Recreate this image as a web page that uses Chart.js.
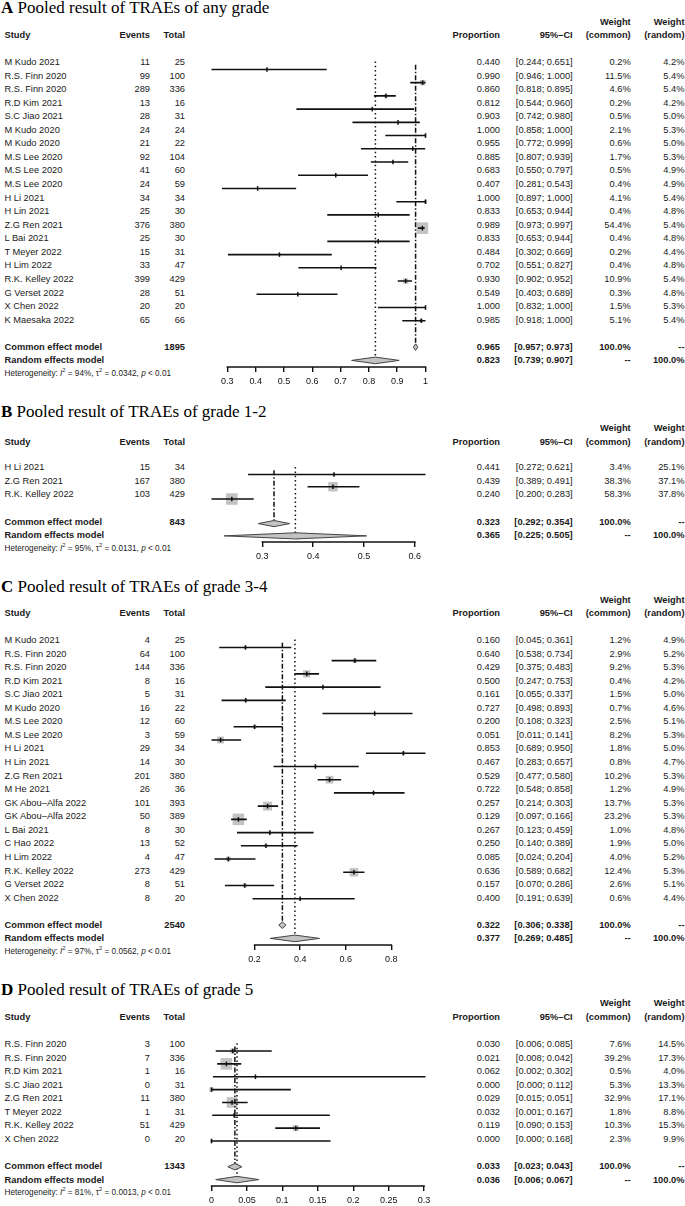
<!DOCTYPE html>
<html>
<head>
<meta charset="utf-8">
<script src="https://cdn.jsdelivr.net/npm/chart.js@4.4.1/dist/chart.umd.min.js"></script>
<style>
  body { margin: 0; background: #fff; }
  #page { position: relative; width: 685px; height: 1206px; overflow: hidden;
          font-family: "Liberation Sans", Arial, sans-serif; color: #1a1a1a; }
  .t { position: absolute; white-space: nowrap; font-size: 9.3px; line-height: 12px; }
  .b { font-weight: bold; }
  .title { font-family: "Liberation Serif", "Times New Roman", serif; font-size: 17px; line-height: 18px; color: #000; }
  .het { font-size: 8.2px; }
  .het sup { font-size: 70%; line-height: 0; }
  canvas { position: absolute; left: 0; }
</style>
</head>
<body>
<div id="page"></div>
<script>
// ---- Panel A: any grade
const studiesA = ["M Kudo 2021","R.S. Finn 2020","R.S. Finn 2020","R.D Kim 2021","S.C Jiao 2021","M Kudo 2020","M Kudo 2020",
  "M.S Lee 2020","M.S Lee 2020","M.S Lee 2020","H Li 2021","H Lin 2021","Z.G Ren 2021","L Bai 2021","T Meyer 2022",
  "H Lim 2022","R.K. Kelley 2022","G Verset 2022","X Chen 2022","K Maesaka 2022"];
const eventsA = [11,99,289,13,28,24,21,92,41,24,34,25,376,25,15,33,399,28,20,65];
const totalA = [25,100,336,16,31,24,22,104,60,59,34,30,380,30,31,47,429,51,20,66];
const propA = [0.440,0.990,0.860,0.812,0.903,1.000,0.955,0.885,0.683,0.407,1.000,0.833,0.989,0.833,0.484,0.702,0.930,0.549,1.000,0.985];
const loA = [0.244,0.946,0.818,0.544,0.742,0.858,0.772,0.807,0.550,0.281,0.897,0.653,0.973,0.653,0.302,0.551,0.902,0.403,0.832,0.918];
const hiA = [0.651,1.000,0.895,0.960,0.980,1.000,0.999,0.939,0.797,0.543,1.000,0.944,0.997,0.944,0.669,0.827,0.952,0.689,1.000,1.000];
const wComA = [0.2,11.5,4.6,0.2,0.5,2.1,0.6,1.7,0.5,0.4,4.1,0.4,54.4,0.4,0.2,0.4,10.9,0.3,1.5,5.1];
const wRanA = [4.2,5.4,5.4,4.2,5.0,5.3,5.0,5.3,4.9,4.9,5.4,4.8,5.4,4.8,4.4,4.8,5.4,4.8,5.3,5.4];
const commonA = [0.965,0.957,0.973];
const randomA = [0.823,0.739,0.907];
const hetA = ["94%","0.0342"];
const nA = 1895;
const ticksA = [0.3,0.4,0.5,0.6,0.7,0.8,0.9,1];
const tickLabelsA = ["0.3","0.4","0.5","0.6","0.7","0.8","0.9","1"];

// ---- Panel B: grade 1-2
const studiesB = ["H Li 2021","Z.G Ren 2021","R.K. Kelley 2022"];
const eventsB = [15,167,103];
const totalB = [34,380,429];
const propB = [0.441,0.439,0.240];
const loB = [0.272,0.389,0.200];
const hiB = [0.621,0.491,0.283];
const wComB = [3.4,38.3,58.3];
const wRanB = [25.1,37.1,37.8];
const commonB = [0.323,0.292,0.354];
const randomB = [0.365,0.225,0.505];
const hetB = ["95%","0.0131"];
const nB = 843;
const ticksB = [0.3,0.4,0.5,0.6];
const tickLabelsB = ["0.3","0.4","0.5","0.6"];

// ---- Panel C: grade 3-4
const studiesC = ["M Kudo 2021","R.S. Finn 2020","R.S. Finn 2020","R.D Kim 2021","S.C Jiao 2021","M Kudo 2020","M.S Lee 2020",
  "M.S Lee 2020","H Li 2021","H Lin 2021","Z.G Ren 2021","M He 2021","GK Abou\u2013Alfa 2022","GK Abou\u2013Alfa 2022",
  "L Bai 2021","C Hao 2022","H Lim 2022","R.K. Kelley 2022","G Verset 2022","X Chen 2022"];
const eventsC = [4,64,144,8,5,16,12,3,29,14,201,26,101,50,8,13,4,273,8,8];
const totalC = [25,100,336,16,31,22,60,59,34,30,380,36,393,389,30,52,47,429,51,20];
const propC = [0.160,0.640,0.429,0.500,0.161,0.727,0.200,0.051,0.853,0.467,0.529,0.722,0.257,0.129,0.267,0.250,0.085,0.636,0.157,0.400];
const loC = [0.045,0.538,0.375,0.247,0.055,0.498,0.108,0.011,0.689,0.283,0.477,0.548,0.214,0.097,0.123,0.140,0.024,0.589,0.070,0.191];
const hiC = [0.361,0.734,0.483,0.753,0.337,0.893,0.323,0.141,0.950,0.657,0.580,0.858,0.303,0.166,0.459,0.389,0.204,0.682,0.286,0.639];
const wComC = [1.2,2.9,9.2,0.4,1.5,0.7,2.5,8.2,1.8,0.8,10.2,1.2,13.7,23.2,1.0,1.9,4.0,12.4,2.6,0.6];
const wRanC = [4.9,5.2,5.3,4.2,5.0,4.6,5.1,5.3,5.0,4.7,5.3,4.9,5.3,5.3,4.8,5.0,5.2,5.3,5.1,4.4];
const commonC = [0.322,0.306,0.338];
const randomC = [0.377,0.269,0.485];
const hetC = ["97%","0.0562"];
const nC = 2540;
const ticksC = [0.2,0.4,0.6,0.8];
const tickLabelsC = ["0.2","0.4","0.6","0.8"];

// ---- Panel D: grade 5
const studiesD = ["R.S. Finn 2020","R.S. Finn 2020","R.D Kim 2021","S.C Jiao 2021","Z.G Ren 2021","T Meyer 2022","R.K. Kelley 2022","X Chen 2022"];
const eventsD = [3,7,1,0,11,1,51,0];
const totalD = [100,336,16,31,380,31,429,20];
const propD = [0.030,0.021,0.062,0.000,0.029,0.032,0.119,0.000];
const loD = [0.006,0.008,0.002,0.000,0.015,0.001,0.090,0.000];
const hiD = [0.085,0.042,0.302,0.112,0.051,0.167,0.153,0.168];
const wComD = [7.6,39.2,0.5,5.3,32.9,1.8,10.3,2.3];
const wRanD = [14.5,17.3,4.0,13.3,17.1,8.8,15.3,9.9];
const commonD = [0.033,0.023,0.043];
const randomD = [0.036,0.006,0.067];
const hetD = ["81%","0.0013"];
const nD = 1343;
const ticksD = [0,0.05,0.1,0.15,0.2,0.25,0.3];
const tickLabelsD = ["0","0.05","0.1","0.15","0.2","0.25","0.3"];

const W = 685, PITCH = 13.56, AXIS_H = 24;
const INK = '#111', BOX = '#c3c3c3';
const COL = { study: 4.5, events: 150, total: 185, prop: 500, ci: 572.7, wcom: 630.7, wran: 684.5 };
const page = document.getElementById('page');

function txt(x, y, s, cls, right) {
  const d = document.createElement('div');
  d.className = 't ' + (cls || '');
  if (right) d.style.right = (W - x) + 'px'; else d.style.left = x + 'px';
  d.style.top = (y - 6) + 'px';
  d.textContent = s;
  page.appendChild(d);
  return d;
}

const f3 = v => v.toFixed(3);
const ciStr = (lo, hi) => `[${f3(lo)}; ${f3(hi)}]`;
const pct = w => w.toFixed(1) + '%';

// horizontal axis line only between first and last tick
const axisLine = {
  id: 'axisLine',
  afterDraw(chart) {
    const xs = chart.scales.x, t = xs.ticks, y = chart.chartArea.bottom, c = chart.ctx;
    c.save();
    c.strokeStyle = INK;
    c.lineWidth = 1.5;
    c.beginPath();
    c.moveTo(xs.getPixelForValue(t[0].value) - 0.75, y);
    c.lineTo(xs.getPixelForValue(t[t.length - 1].value) + 0.75, y);
    c.stroke();
    c.restore();
  }
};

function forest(p) {
  const n = p.studies.length, comRow = n + 1, ranRow = n + 2;
  const h = Math.round((ranRow + 1.5) * PITCH + AXIS_H);
  const cv = document.createElement('canvas');
  cv.width = W; cv.height = h;
  cv.style.top = (p.row0 - PITCH) + 'px';
  page.appendChild(cv);

  const pts = p.prop.map((v, i) => ({ x: v, y: i }));
  const ci = [];
  p.lo.forEach((v, i) => ci.push({ x: v, y: i }, { x: p.hi[i], y: i }, { x: v, y: null }));
  const maxW = Math.max(...p.wCom);
  const dia = (s, r) => [{ x: s[1], y: r }, { x: s[0], y: r - 0.25 }, { x: s[2], y: r }, { x: s[0], y: r + 0.25 }, { x: s[1], y: r }];
  const line = (data, extra) => Object.assign({ data, showLine: true, pointRadius: 0, borderColor: INK, borderWidth: 1.5, clip: false }, extra);

  new Chart(cv, {
    type: 'scatter',
    data: {
      datasets: [
        { data: pts, pointStyle: 'rect', pointRadius: c => 8.2 * Math.sqrt(p.wCom[c.dataIndex] / maxW),
          pointBackgroundColor: BOX, pointBorderWidth: 0, clip: false, order: 6 },
        line([{ x: p.common[0], y: -0.35 }, { x: p.common[0], y: comRow }], { borderDash: [5, 2, 1.5, 2], order: 5 }),
        line([{ x: p.random[0], y: -0.6 }, { x: p.random[0], y: ranRow }], { borderDash: [1.5, 2.8], order: 4 }),
        line(ci, { spanGaps: false, borderWidth: 1.6, order: 3 }),
        { data: pts, pointStyle: 'line', pointRotation: 90, pointRadius: 2.3, pointBorderColor: INK,
          pointBorderWidth: 1.5, clip: false, order: 2 },
        line(dia(p.common, comRow), { fill: 'shape', backgroundColor: BOX, borderColor: '#444', borderWidth: 1, order: 1 }),
        line(dia(p.random, ranRow), { fill: 'shape', backgroundColor: BOX, borderColor: '#444', borderWidth: 1, order: 0 })
      ]
    },
    options: {
      responsive: false,
      animation: false,
      events: [],
      layout: { padding: { left: 211.5, right: W - 425.5, top: 0, bottom: 0 } },
      plugins: { legend: { display: false }, tooltip: { enabled: false } },
      scales: {
        y: { type: 'linear', reverse: true, min: -1, max: ranRow + 0.5, display: false },
        x: {
          type: 'linear',
          min: Math.min(...p.lo, p.random[1]),
          max: Math.max(...p.hi, p.random[2]),
          afterBuildTicks: s => { s.ticks = p.ticks.map(v => ({ value: v })); },
          afterFit: s => { s.height = AXIS_H; },
          border: { display: false },
          grid: { drawOnChartArea: false, drawTicks: true, tickLength: 5, color: INK, lineWidth: 1.4 },
          ticks: { callback: (v, i) => p.tickLabels[i], autoSkip: false, maxRotation: 0, padding: 4.5,
                   color: INK, font: { family: 'Liberation Sans', size: 9 } }
        }
      }
    },
    plugins: [axisLine]
  });
}

function panel(p) {
  const n = p.studies.length;

  const title = document.createElement('div');
  title.className = 't title';
  title.style.left = '1px';
  title.style.top = (p.titleY - 9) + 'px';
  const b = document.createElement('b');
  b.textContent = p.letter;
  title.append(b, ' ' + p.title);
  page.appendChild(title);

  const hy = p.headY;
  txt(COL.study, hy, 'Study', 'b');
  txt(COL.events, hy, 'Events', 'b', true);
  txt(COL.total, hy, 'Total', 'b', true);
  txt(COL.prop, hy, 'Proportion', 'b', true);
  txt(COL.ci, hy, '95%\u2013CI', 'b', true);
  txt(COL.wcom, hy - 13.5, 'Weight', 'b', true);
  txt(COL.wcom, hy, '(common)', 'b', true);
  txt(COL.wran, hy - 13.5, 'Weight', 'b', true);
  txt(COL.wran, hy, '(random)', 'b', true);

  p.studies.forEach((s, i) => {
    const y = p.row0 + i * PITCH;
    txt(COL.study, y, s);
    txt(COL.events, y, String(p.events[i]), '', true);
    txt(COL.total, y, String(p.total[i]), '', true);
    txt(COL.prop, y, f3(p.prop[i]), '', true);
    txt(COL.ci, y, ciStr(p.lo[i], p.hi[i]), '', true);
    txt(COL.wcom, y, pct(p.wCom[i]), '', true);
    txt(COL.wran, y, pct(p.wRan[i]), '', true);
  });

  const yc = p.row0 + (n + 1) * PITCH, yr = yc + PITCH, yh = yr + PITCH;
  txt(COL.study, yc, 'Common effect model', 'b');
  txt(COL.total, yc, String(p.n), 'b', true);
  txt(COL.prop, yc, f3(p.common[0]), 'b', true);
  txt(COL.ci, yc, ciStr(p.common[1], p.common[2]), 'b', true);
  txt(COL.wcom, yc, '100.0%', 'b', true);
  txt(COL.wran, yc, '--', 'b', true);
  txt(COL.study, yr, 'Random effects model', 'b');
  txt(COL.prop, yr, f3(p.random[0]), 'b', true);
  txt(COL.ci, yr, ciStr(p.random[1], p.random[2]), 'b', true);
  txt(COL.wcom, yr, '--', 'b', true);
  txt(COL.wran, yr, '100.0%', 'b', true);

  const het = txt(COL.study, yh, '', 'het');
  het.innerHTML = `Heterogeneity: <i>I</i><sup>2</sup> = ${p.het[0]}, \u03c4<sup>2</sup> = ${p.het[1]}, <i>p</i> &lt; 0.01`;

  forest(p);
}

panel({ letter: 'A', title: 'Pooled result of TRAEs of any grade', titleY: 8, headY: 35, row0: 62,
  studies: studiesA, events: eventsA, total: totalA, prop: propA, lo: loA, hi: hiA, wCom: wComA, wRan: wRanA,
  common: commonA, random: randomA, het: hetA, n: nA, ticks: ticksA, tickLabels: tickLabelsA });
panel({ letter: 'B', title: 'Pooled result of TRAEs of grade 1-2', titleY: 411.7, headY: 441.5, row0: 467.3,
  studies: studiesB, events: eventsB, total: totalB, prop: propB, lo: loB, hi: hiB, wCom: wComB, wRan: wRanB,
  common: commonB, random: randomB, het: hetB, n: nB, ticks: ticksB, tickLabels: tickLabelsB });
panel({ letter: 'C', title: 'Pooled result of TRAEs of grade 3-4', titleY: 586.7, headY: 613.2, row0: 640,
  studies: studiesC, events: eventsC, total: totalC, prop: propC, lo: loC, hi: hiC, wCom: wComC, wRan: wRanC,
  common: commonC, random: randomC, het: hetC, n: nC, ticks: ticksC, tickLabels: tickLabelsC });
panel({ letter: 'D', title: 'Pooled result of TRAEs of grade 5', titleY: 990, headY: 1016.8, row0: 1044,
  studies: studiesD, events: eventsD, total: totalD, prop: propD, lo: loD, hi: hiD, wCom: wComD, wRan: wRanD,
  common: commonD, random: randomD, het: hetD, n: nD, ticks: ticksD, tickLabels: tickLabelsD });
</script>
</body>
</html>
